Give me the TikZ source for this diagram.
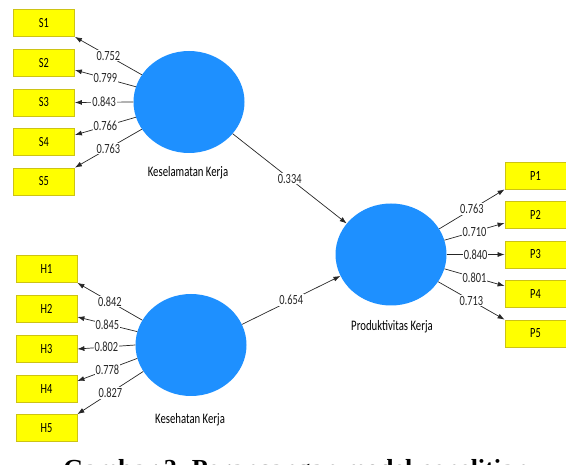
\documentclass[tikz,border=0pt]{standalone}
\usepackage{fontspec}
\usetikzlibrary{shapes.geometric,arrows.meta}
\newfontfamily\labfont[FakeStretch=0.74]{Carlito}
\newfontfamily\capfont{Liberation Serif}
\definecolor{lvblue}{RGB}{30,144,255}
\definecolor{boxyel}{RGB}{255,255,0}
\definecolor{boxedge}{RGB}{205,195,20}
\tikzset{
  ind/.style={rectangle, fill=boxyel, draw=boxedge, line width=0.8pt,
    minimum width=61pt, minimum height=27pt, inner sep=0pt,
    font=\labfont\fontsize{14}{16}\selectfont},
  lv/.style={ellipse, fill=lvblue, draw=none, minimum width=111pt,
    minimum height=102pt, inner sep=0pt},
  lvname/.style={font=\labfont\fontsize{14.5}{16}\selectfont, inner sep=1pt},
  conn/.style={-{Latex[length=7pt,width=5pt]}, line width=0.7pt, black!85},
  wt/.style={font=\labfont\fontsize{14}{16}\selectfont, fill=white,
    inner sep=1pt, pos=0.5}
}
\begin{document}
\begin{tikzpicture}[x=1pt,y=-1pt]
\useasboundingbox (0,0) rectangle (566,465);
\clip (0,0) rectangle (566,465);
% indicator boxes
\node[ind] (s1) at (44,23) {S1};
\node[ind] (s2) at (44,63) {S2};
\node[ind] (s3) at (44,102.5) {S3};
\node[ind] (s4) at (44,142) {S4};
\node[ind] (s5) at (44,181.5) {S5};
\node[ind] (h1) at (46.5,269) {H1};
\node[ind] (h2) at (46.5,309) {H2};
\node[ind] (h3) at (46.5,349) {H3};
\node[ind] (h4) at (46.5,389) {H4};
\node[ind] (h5) at (46.5,428) {H5};
\node[ind] (p1) at (535.5,175.5) {P1};
\node[ind] (p2) at (535.5,215) {P2};
\node[ind] (p3) at (535.5,254.5) {P3};
\node[ind] (p4) at (535.5,294) {P4};
\node[ind] (p5) at (535.5,333.5) {P5};
% latent variables
\node[lv] (ks) at (189,102) {};
\node[lv] (kh) at (191,345) {};
\node[lv] (pk) at (391,254.5) {};
\node[lvname] (ksl) at (188,173) {Keselamatan Kerja};
\node[lvname] (khl) at (190,420) {Kesehatan Kerja};
\node[lvname] (pkl) at (392,327) {Produktivitas Kerja};
% outer loadings Keselamatan
\draw[conn] (ks.150) -- (s1.south east) node[wt] {0.752};
\draw[conn] (ks.164) -- ([yshift=-7pt]s2.east) node[wt] {0.799};
\draw[conn] (ks.180) -- (s3.east) node[wt] {0.843};
\draw[conn] (ks.196) -- ([yshift=7pt]s4.east) node[wt] {0.766};
\draw[conn] (ks.210) -- (s5.north east) node[wt] {0.763};
% outer loadings Kesehatan
\draw[conn] (kh.153) -- (h1.south east) node[wt] {0.842};
\draw[conn] (kh.166) -- ([yshift=-8pt]h2.east) node[wt] {0.845};
\draw[conn] (kh.180) -- (h3.east) node[wt] {0.802};
\draw[conn] (kh.194) -- ([yshift=8pt]h4.east) node[wt] {0.778};
\draw[conn] (kh.209) -- (h5.north east) node[wt] {0.827};
% outer loadings Produktivitas
\draw[conn] (pk.28) -- (p1.south west) node[wt] {0.763};
\draw[conn] (pk.15) -- ([yshift=-8pt]p2.west) node[wt] {0.710};
\draw[conn] (pk.0) -- (p3.west) node[wt] {0.840};
\draw[conn] (pk.-15) -- ([yshift=8pt]p4.west) node[wt] {0.801};
\draw[conn] (pk.-30) -- (p5.north west) node[wt] {0.713};
% path coefficients
\draw[conn] (ks.-36) -- (pk.145) node[wt] {0.334};
\draw[conn] (kh.22) -- (pk.203) node[wt] {0.654};
% caption (cut off at the bottom edge, as in the reference)
\node[font=\capfont\bfseries\fontsize{26}{30}\selectfont, anchor=base,
  inner sep=0pt] (cap) at (296,478) {Gambar 2. Perancangan model penelitian};
\end{tikzpicture}
\end{document}
